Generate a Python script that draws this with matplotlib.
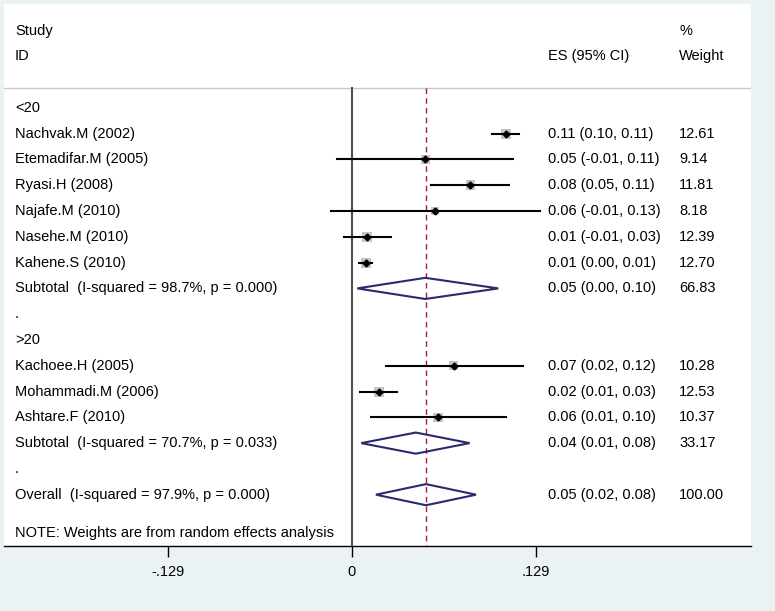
import matplotlib
matplotlib.use("Agg")
import matplotlib.pyplot as plt
from matplotlib.patches import Polygon, Rectangle
import numpy as np

plt.rcParams['font.family'] = ['Liberation Sans', 'DejaVu Sans']

# ---- data ----
labels = ["<20", "Nachvak.M (2002)", "Etemadifar.M (2005)", "Ryasi.H (2008)", "Najafe.M (2010)",
          "Nasehe.M (2010)", "Kahene.S (2010)", "Subtotal  (I-squared = 98.7%, p = 0.000)", ".",
          ">20", "Kachoee.H (2005)", "Mohammadi.M (2006)", "Ashtare.F (2010)",
          "Subtotal  (I-squared = 70.7%, p = 0.033)", ".", "Overall  (I-squared = 97.9%, p = 0.000)"]
row_kind = ["head", "study", "study", "study", "study", "study", "study", "sub", "blank",
            "head", "study", "study", "study", "sub", "blank", "sub"]
es = [None, 0.1078, 0.0514, 0.0830, 0.0582, 0.0108, 0.0098, 0.0514, None,
      None, 0.0715, 0.0189, 0.0603, 0.0447, None, 0.0519]
lo = [None, 0.0980, -0.0103, 0.0552, -0.0150, -0.0058, 0.0051, 0.0037, None,
      None, 0.0236, 0.0058, 0.0135, 0.0065, None, 0.0168]
hi = [None, 0.1173, 0.1131, 0.1103, 0.1318, 0.0273, 0.0142, 0.1026, None,
      None, 0.1197, 0.0318, 0.1078, 0.0825, None, 0.0870]
es_text = ["", "0.11 (0.10, 0.11)", "0.05 (-0.01, 0.11)", "0.08 (0.05, 0.11)", "0.06 (-0.01, 0.13)",
           "0.01 (-0.01, 0.03)", "0.01 (0.00, 0.01)", "0.05 (0.00, 0.10)", "",
           "", "0.07 (0.02, 0.12)", "0.02 (0.01, 0.03)", "0.06 (0.01, 0.10)",
           "0.04 (0.01, 0.08)", "", "0.05 (0.02, 0.08)"]
weights = [None, 12.61, 9.14, 11.81, 8.18, 12.39, 12.70, 66.83, None,
           None, 10.28, 12.53, 10.37, 33.17, None, 100.00]
overall_es = 0.0519
tick_vals = [-0.129, 0, 0.129]
tick_labels = ["-.129", "0", ".129"]

W, H = 775, 611
fig = plt.figure(figsize=(W / 100, H / 100), dpi=100)
fig.patch.set_facecolor("#EAF2F3")

left_px, right_px, top_px, bot_px = 4, 751, 4, 546
ax = fig.add_axes([left_px / W, 1 - bot_px / H, (right_px - left_px) / W, (bot_px - top_px) / H])
ax.set_facecolor("white")
x0 = (left_px - 352) / 1426.0
x1 = (right_px - 352) / 1426.0
ax.set_xlim(x0, x1)
ax.set_ylim(16.99, -4.03)
for s in ["left", "right", "top"]:
    ax.spines[s].set_visible(False)
ax.spines["bottom"].set_color("black")
ax.spines["bottom"].set_linewidth(1.0)
ax.set_yticks([])
ax.set_xticks(tick_vals)
ax.set_xticklabels(tick_labels, fontsize=10.5)
ax.tick_params(axis="x", length=8, width=1.0, pad=6, colors="black")

fs = 10.5
xlab = x0 + (15 - left_px) / 1426.0
xes = x0 + (548 - left_px) / 1426.0
xw = x0 + (679 - left_px) / 1426.0

# header
ax.text(xlab, -3, "Study", fontsize=fs, va="center")
ax.text(xlab, -2, "ID", fontsize=fs, va="center")
ax.text(xes, -2, "ES (95% CI)", fontsize=fs, va="center")
ax.text(xw, -3, "%", fontsize=fs, va="center")
ax.text(xw, -2, "Weight", fontsize=fs, va="center")
ax.axhline(-0.76, color="#c8c8c8", lw=1.0)

# reference lines
ax.plot([0, 0], [-0.76, 16.99], color="#505050", lw=1.5, zorder=2)
ax.plot([overall_es, overall_es], [-0.76, 16.99], color="#9b2335", lw=1.0,
        dashes=(4, 3), zorder=2)

for r, (lab, kind) in enumerate(zip(labels, row_kind)):
    ax.text(xlab, r, lab, fontsize=fs, va="center")
    if es[r] is None:
        continue
    ax.text(xes, r, es_text[r], fontsize=fs, va="center")
    ax.text(xw, r, f"{weights[r]:.2f}", fontsize=fs, va="center")
    if kind == "study":
        half = np.sqrt(weights[r] / 12.7) * 5.0  # pixels
        hx = half / 1426.0
        hy = half / 25.8
        ax.add_patch(Rectangle((es[r] - hx, r - hy), 2 * hx, 2 * hy,
                               facecolor="#c4c4c4", edgecolor="none", zorder=3))
        ax.plot([lo[r], hi[r]], [r, r], color="black", lw=1.5, zorder=4)
        ax.plot([es[r]], [r], marker="D", ms=3.5, color="black", zorder=5)
    else:
        dh = 0.41
        ax.add_patch(Polygon([[lo[r], r], [es[r], r - dh], [hi[r], r], [es[r], r + dh]],
                             closed=True, facecolor="none", edgecolor="#2b2b6b",
                             lw=1.5, zorder=4))

ax.text(xlab, 16.48, "NOTE: Weights are from random effects analysis", fontsize=fs, va="center")

fig.savefig("out.png", dpi=100, facecolor=fig.get_facecolor())
